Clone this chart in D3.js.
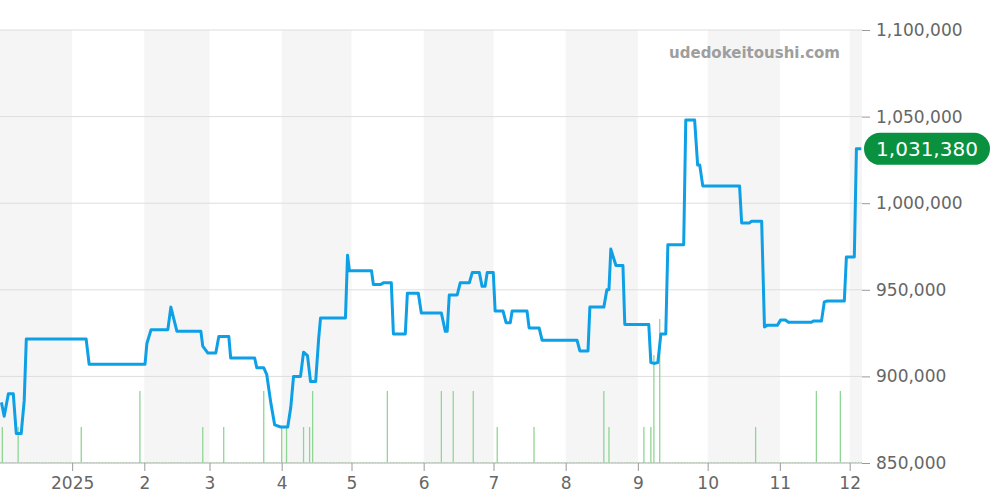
<!DOCTYPE html>
<html>
<head>
<meta charset="utf-8">
<script src="https://cdn.jsdelivr.net/npm/d3@7"></script>
<style>
  body { margin: 0; background: #fff; font-family: "DejaVu Sans", sans-serif; }
</style>
</head>
<body>
<div id="chart"></div>
<script>
// days since 2024-12-01 and price (JPY)
const priceDays = [0.6,1.8,3.6,5.7,7,9.1,10.4,11.3,37,38.3,62.3,63.1,64.9,72.1,73.4,76,86.3,87.1,89.3,92.7,94,98.3,99.1,109.4,110.3,113.3,114.6,116.3,118,120.6,123.6,124.9,126.1,129.1,130.4,132.1,133.4,135.6,136.9,137.7,148.4,149.3,150.1,159.6,160.4,163.4,164.7,168.1,169,174.1,175,179.7,181,189.6,191.3,192.1,193,196.4,197.7,201.6,202.9,205.9,207.1,208.4,209.3,211.9,212.7,216.1,217.4,219.2,220,226.4,227.3,231.6,232.9,247.9,249.1,252.6,253.4,259.4,260.7,261.6,262.4,264.6,267.6,268.4,278.7,279.6,280.9,282.6,283.9,286,286.9,293.7,294.6,298.4,299.7,300.6,301.9,317.7,318.6,322,322.9,327.2,328.4,329.7,334,335.3,337.4,338.7,348.6,349.4,352.9,354.1,355.4,362.7,363.6,367,367.9,370];
const priceValues = [885000,877000,890000,890000,867000,867000,886000,921600,921600,907000,907000,919000,927000,927000,940000,926000,926000,917500,913500,913500,923000,923000,910600,910600,905000,905000,901000,885000,872000,870800,870800,882000,900000,900000,914000,912000,897000,897000,922000,933700,933700,970000,961000,961000,953000,953000,954000,954000,924500,924500,948000,948000,936600,936600,926000,926000,947000,947000,954000,954000,960000,960000,952000,952000,960000,960000,937700,937700,931000,931000,937700,937700,928000,928000,920800,920800,914700,914700,940000,940000,950000,950000,973500,964000,964000,930000,930000,908000,907500,908000,924500,924500,976000,976000,1048000,1048000,1022000,1022000,1010000,1010000,988600,988600,989600,989600,928500,929600,929600,932500,932500,931300,931300,932000,932000,943000,943500,943500,969000,969000,1031380,1031380];
// trade counts
const volDays = [1,7.8,34.9,60.1,87.1,96.1,113.3,121,123.1,130.4,133,134.3,166.4,189.6,194.7,203.3,213.6,229.4,259.4,261.6,276.6,279.6,280.9,283.4,324.6,350.7,361];
const volCounts = [1,1,1,2,1,1,2,1,1,1,1,2,2,2,2,2,1,1,2,1,1,1,3,4,1,2,2];
const yTicks = [850000,900000,950000,1000000,1050000,1100000];
const lastPrice = 1031380;

const W = 1000, H = 500;
const m = { left: 0, right: 138, top: 30, bottom: 37 };
const base = new Date(2024, 11, 1);
const toDate = d => new Date(base.getTime() + d * 864e5);

const svg = d3.select("#chart").append("svg").attr("width", W).attr("height", H);

const x = d3.scaleTime()
  .domain([toDate(0), toDate(370.3)])
  .range([m.left, W - m.right]);
const y = d3.scaleLinear()
  .domain([850000, 1100000])
  .range([H - m.bottom, m.top]);
const yv = d3.scaleLinear().domain([0, 1]).range([0, 36]);

// alternating month bands (even months gray)
const months = d3.timeMonth.range(d3.timeMonth.floor(toDate(0)), toDate(371));
months.forEach(mo => {
  if ((mo.getMonth() + 1) % 2 === 0) {
    const x0 = Math.max(x(mo), m.left);
    const x1 = Math.min(x(d3.timeMonth.offset(mo, 1)), W - m.right);
    svg.append("rect").attr("x", x0).attr("y", m.top)
      .attr("width", x1 - x0).attr("height", H - m.bottom - m.top)
      .attr("fill", "#f5f5f5");
  }
});

// gridlines
svg.append("g").selectAll("line").data(yTicks).enter().append("line")
  .attr("x1", m.left).attr("x2", W - m.right)
  .attr("y1", d => y(d)).attr("y2", d => y(d))
  .attr("stroke", "#dddddd");

// volume
svg.append("g").selectAll("line").data(volDays).enter().append("line")
  .attr("x1", d => x(toDate(d))).attr("x2", d => x(toDate(d)))
  .attr("y1", H - m.bottom).attr("y2", (d, i) => H - m.bottom - yv(volCounts[i]))
  .attr("stroke", "#8fd694").attr("stroke-width", 1.3);
svg.append("line").attr("x1", m.left).attr("x2", W - m.right)
  .attr("y1", H - m.bottom - 0.5).attr("y2", H - m.bottom - 0.5)
  .attr("stroke", "#a8e0ad").attr("stroke-dasharray", "1,2");

// price line
const line = d3.line()
  .x((d, i) => x(toDate(priceDays[i])))
  .y(d => y(d));
svg.append("path").datum(priceValues).attr("d", line)
  .attr("fill", "none").attr("stroke", "#0ea0e6").attr("stroke-width", 3)
  .attr("stroke-linejoin", "round");

// right axis
const ya = svg.append("g").attr("transform", `translate(${W - m.right},0)`)
  .call(d3.axisRight(y).tickValues(yTicks).tickSize(8).tickPadding(6).tickFormat(d3.format(",")));
ya.select(".domain").remove();
ya.selectAll("line").attr("stroke", "#999");
ya.selectAll("text").attr("fill", "#666").style("font-size", "17px").style("font-family", "DejaVu Sans");

// bottom axis
const monthTicks = d3.timeMonth.range(toDate(20), toDate(371));
const xa = svg.append("g").attr("transform", `translate(0,${H - m.bottom})`)
  .call(d3.axisBottom(x).tickValues(monthTicks).tickSize(8).tickPadding(6)
    .tickFormat(d => d.getMonth() === 0 ? d.getFullYear() : d.getMonth() + 1));
xa.select(".domain").attr("stroke", "#bbb").attr("d", `M${m.left},0H${W - m.right}`);
xa.selectAll("line").attr("stroke", "#999");
xa.selectAll("text").attr("fill", "#666").style("font-size", "17px").style("font-family", "DejaVu Sans");

// watermark
svg.append("text").attr("x", 840).attr("y", 58).attr("text-anchor", "end")
  .attr("fill", "#9e9e9e").style("font-size", "15px").style("font-weight", "bold")
  .text("udedokeitoushi.com");

// last price badge
const by = y(lastPrice);
svg.append("rect").attr("x", 864).attr("y", by - 16).attr("width", 126).attr("height", 32)
  .attr("rx", 16).attr("fill", "#0a9140");
svg.append("text").attr("x", 927).attr("y", by + 7).attr("text-anchor", "middle")
  .attr("fill", "#fff").style("font-size", "20px").text(d3.format(",")(lastPrice));
</script>
</body>
</html>
